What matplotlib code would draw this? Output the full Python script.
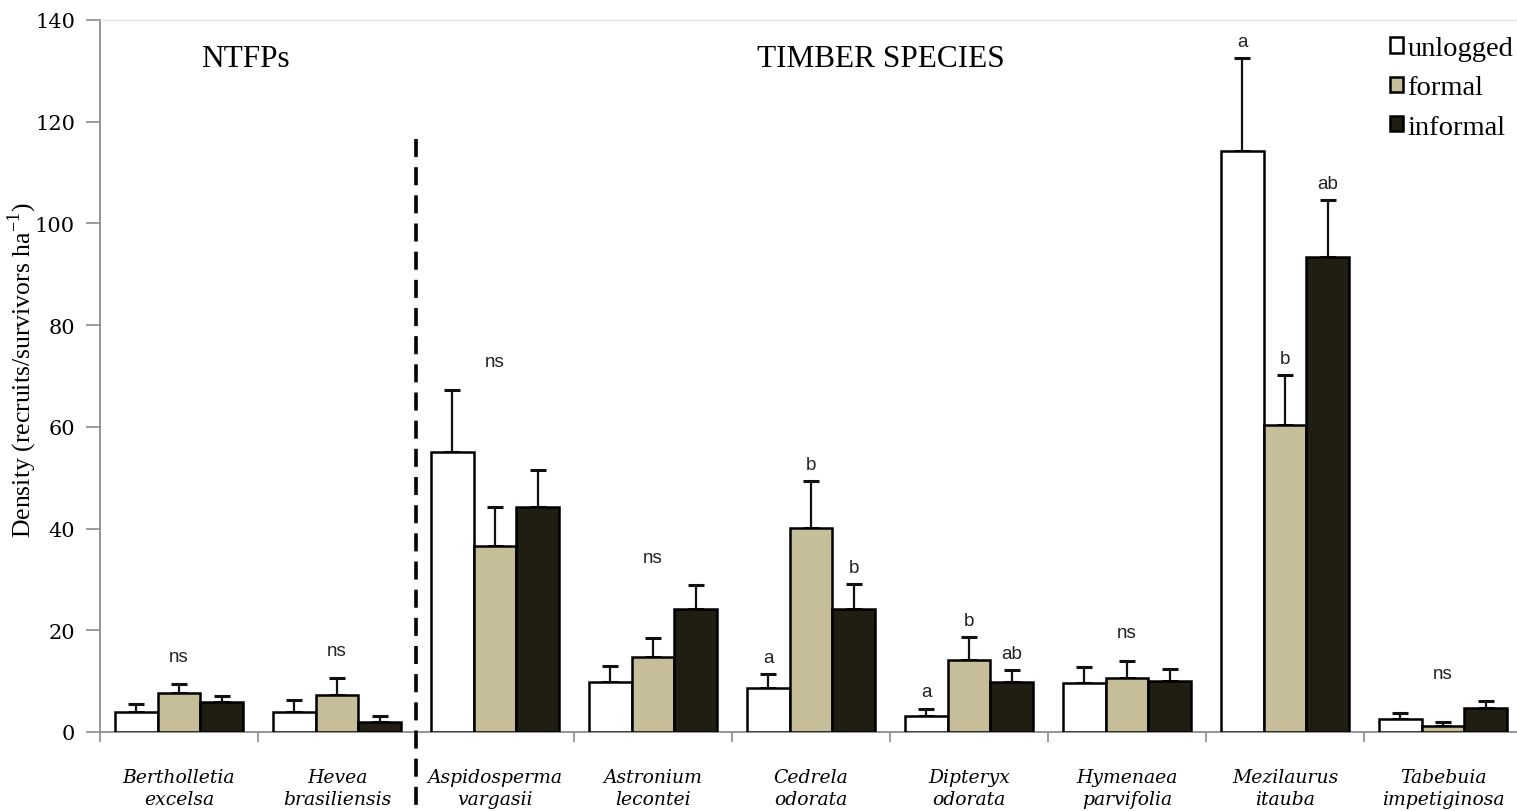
import matplotlib
matplotlib.use("Agg")
import matplotlib.pyplot as plt
import numpy as np
from matplotlib.patches import Patch

species = [
    "Bertholletia\nexcelsa",
    "Hevea\nbrasiliensis",
    "Aspidosperma\nvargasii",
    "Astronium\nlecontei",
    "Cedrela\nodorata",
    "Dipteryx\nodorata",
    "Hymenaea\nparvifolia",
    "Mezilaurus\nitauba",
    "Tabebuia\nimpetiginosa",
]
treatments = ["unlogged", "formal", "informal"]

# mean density and upper end of the error bar for each treatment
unlogged = [3.9, 3.9, 55.0, 9.9, 8.6, 3.1, 9.6, 114.2, 2.6]
unlogged_top = [5.5, 6.3, 67.3, 12.9, 11.4, 4.6, 12.8, 132.5, 3.7]
formal = [7.6, 7.3, 36.6, 14.7, 40.1, 14.2, 10.6, 60.4, 1.1]
formal_top = [9.4, 10.6, 44.3, 18.5, 49.4, 18.7, 14.0, 70.2, 1.9]
informal = [5.9, 2.0, 44.2, 24.1, 24.1, 9.9, 10.0, 93.4, 4.7]
informal_top = [7.1, 3.1, 51.6, 28.9, 29.1, 12.2, 12.4, 104.6, 6.0]

# significance letters per bar ("" = none); "ns" is written once per group
letters = [
    ["", "", ""],
    ["", "", ""],
    ["", "", ""],
    ["", "", ""],
    ["a", "b", "b"],
    ["a", "b", "ab"],
    ["", "", ""],
    ["a", "b", "ab"],
    ["", "", ""],
]
not_significant = [True, True, True, True, False, False, True, False, True]

colors = ["#ffffff", "#c5be98", "#201d12"]
grey = "#8c8c8c"

fig = plt.figure(figsize=(15.17, 8.12), dpi=100)
ax = fig.add_axes([0.0659, 0.0973, 0.9374, 0.877])

x = np.arange(len(species)) + 0.5
width = 0.27
means = [unlogged, formal, informal]
tops = [unlogged_top, formal_top, informal_top]

for k, (vals, top, col) in enumerate(zip(means, tops, colors)):
    pos = x + (k - 1) * width
    vals = np.array(vals)
    err = np.array(top) - vals
    ax.bar(pos, vals, width, color=col, edgecolor="black", linewidth=1.8,
           zorder=3, label=treatments[k])
    ax.errorbar(pos, vals, yerr=[np.zeros_like(err), err], fmt="none",
                ecolor="#111111", elinewidth=1.6, capsize=6, capthick=2.2,
                zorder=2)
    for i, lab in enumerate(letters):
        if lab[k]:
            ax.text(pos[i], top[i] + 1.6, lab[k], ha="center", va="bottom",
                    fontsize=13.5, family="Liberation Sans", color="#222222")

for i, ns in enumerate(not_significant):
    if ns:
        peak = max(unlogged_top[i], formal_top[i], informal_top[i])
        ax.text(x[i], peak + 3.8, "ns", ha="center", va="bottom",
                fontsize=13.5, family="Liberation Sans", color="#222222")

ax.set_xlim(0, len(species))
ax.set_ylim(0, 140)
ax.set_yticks(np.arange(0, 141, 20))
ax.set_yticklabels([str(v) for v in range(0, 141, 20)],
                   family="DejaVu Serif", fontsize=15)
ax.set_xticks(x)
ax.set_xticklabels(species, family="DejaVu Serif", style="italic",
                   fontsize=13.5, linespacing=1.3)
ax.tick_params(axis="x", length=0, pad=26)
ax.set_xticks(np.arange(0, len(species) + 1), minor=True)
ax.tick_params(axis="x", which="minor", length=7, width=1.2, color=grey,
               direction="out")
ax.tick_params(axis="y", length=10, width=1.2, color=grey, pad=8)

for side in ["left", "bottom"]:
    ax.spines[side].set_color(grey)
    ax.spines[side].set_linewidth(1.3)
ax.spines["top"].set_color("#e4e4e4")
ax.spines["right"].set_visible(False)

ax.set_ylabel("Density (recruits/survivors ha$^{\\mathregular{-1}}$)",
              family="Liberation Serif", fontsize=18.5)
ax.yaxis.set_label_coords(-0.043, 0.51)

# divider between non-timber and timber species
ax.plot([2, 2], [116.5, -16], color="black", linewidth=2.6,
        linestyle=(0, (5, 2.8)), clip_on=False, zorder=4)

ax.text(0.92, 132.5, "NTFPs", ha="center", va="center",
        family="Liberation Serif", fontsize=22.5)
ax.text(4.94, 132.5, "TIMBER SPECIES", ha="center", va="center",
        family="Liberation Serif", fontsize=22.5)

handles = [Patch(facecolor=c, edgecolor="black", linewidth=1.8) for c in colors]
ax.legend(handles, treatments, loc="upper right", bbox_to_anchor=(1.008, 1.005),
          frameon=False, prop={"family": "Liberation Serif", "size": 20.5},
          handlelength=0.45, handleheight=0.45, handletextpad=0.15,
          labelspacing=0.5, borderaxespad=0.3)

fig.savefig("out.png", dpi=100)
